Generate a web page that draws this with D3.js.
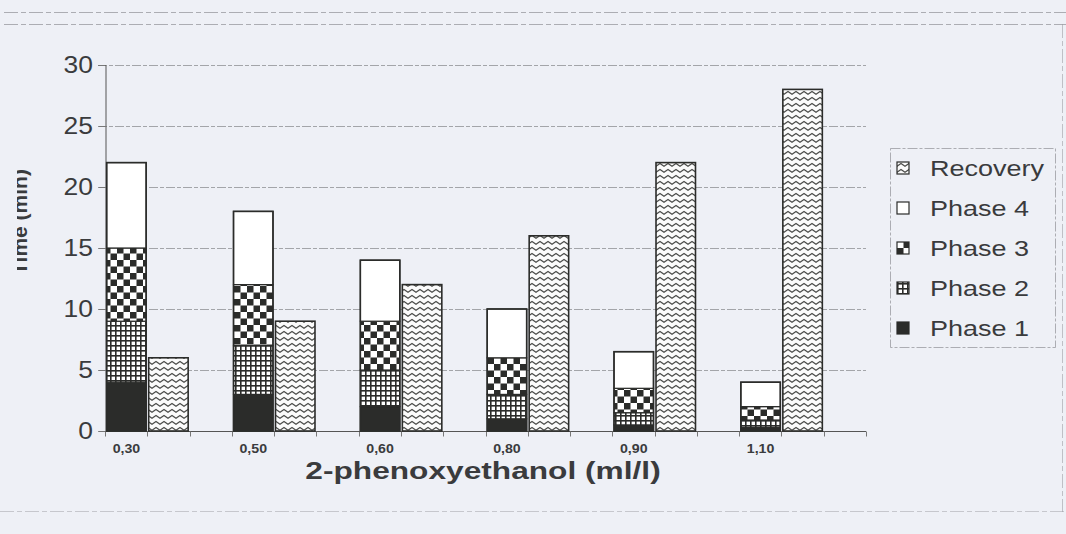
<!DOCTYPE html>
<html>
<head>
<meta charset="utf-8">
<script src="https://cdn.jsdelivr.net/npm/d3@7"></script>
<style>
  html, body { margin: 0; padding: 0; background: #eef0f6; }
  svg { display: block; }
  text { font-family: "Liberation Sans", Arial, sans-serif; }
</style>
</head>
<body>
<svg id="chart" width="1066" height="534"></svg>
<script>
// Anaesthesia stages by 2-phenoxyethanol concentration (minutes)
const categories = ["0,30", "0,50", "0,60", "0,80", "0,90", "1,10"];
const phase1 = [4, 3, 2, 1, 0.5, 0.3];
const phase2 = [5, 4, 3, 2, 1, 0.6];
const phase3 = [6, 5, 4, 3, 2, 1.1];
const phase4 = [7, 6, 5, 4, 3, 2];
const recovery = [6, 9, 12, 16, 22, 28];
const yTicks = [0, 5, 10, 15, 20, 25, 30];
const phaseKeys = ["Phase 1", "Phase 2", "Phase 3", "Phase 4"];
const legendKeys = ["Recovery", "Phase 4", "Phase 3", "Phase 2", "Phase 1"];

const rows = categories.map((c, i) => ({
  cat: c,
  "Phase 1": phase1[i],
  "Phase 2": phase2[i],
  "Phase 3": phase3[i],
  "Phase 4": phase4[i],
  Recovery: recovery[i]
}));

const svg = d3.select("#chart");
const W = 1066, H = 534;
const ink = "#2b2c2a";
const textInk = "#3a3b3d";

svg.append("rect").attr("width", W).attr("height", H).attr("fill", "#eef0f6");

// ---- fill patterns ----
const defs = svg.append("defs");

const pGrid = defs.append("pattern").attr("id", "fill-p2")
  .attr("patternUnits", "userSpaceOnUse").attr("width", 5).attr("height", 5);
pGrid.append("rect").attr("width", 5).attr("height", 5).attr("fill", ink);
pGrid.append("rect").attr("x", 1.6).attr("y", 1.6).attr("width", 3.4).attr("height", 3.4).attr("fill", "#fff");

const pCheck = defs.append("pattern").attr("id", "fill-p3")
  .attr("patternUnits", "userSpaceOnUse").attr("width", 13).attr("height", 13);
pCheck.append("rect").attr("width", 13).attr("height", 13).attr("fill", "#fff");
pCheck.append("rect").attr("width", 6.5).attr("height", 6.5).attr("fill", ink);
pCheck.append("rect").attr("x", 6.5).attr("y", 6.5).attr("width", 6.5).attr("height", 6.5).attr("fill", ink);

const pWave = defs.append("pattern").attr("id", "fill-rec")
  .attr("patternUnits", "userSpaceOnUse").attr("width", 8).attr("height", 6);
pWave.append("rect").attr("width", 8).attr("height", 6).attr("fill", "#fbfbfb");
pWave.append("path").attr("d", "M-0.5,4.6 L4,1.4 L8.5,4.6")
  .attr("fill", "none").attr("stroke", "#4a4b49").attr("stroke-width", 1.2);

const fills = {
  "Phase 1": ink,
  "Phase 2": "url(#fill-p2)",
  "Phase 3": "url(#fill-p3)",
  "Phase 4": "#ffffff",
  "Recovery": "url(#fill-rec)"
};

// ---- scan-page rules around the figure ----
const paper = svg.append("g").attr("stroke", "#9a9ca2").attr("stroke-width", 0.8)
  .attr("stroke-dasharray", "14,3,5,3");
paper.append("line").attr("x1", 4).attr("x2", W).attr("y1", 12.5).attr("y2", 12.5);
paper.append("line").attr("x1", 4).attr("x2", W).attr("y1", 24.5).attr("y2", 24.5);
paper.append("line").attr("x1", 0).attr("x2", W).attr("y1", 511.5).attr("y2", 511.5).attr("opacity", 0.6);
paper.append("line").attr("x1", 1062.5).attr("x2", 1062.5).attr("y1", 24).attr("y2", 512).attr("opacity", 0.7);

// ---- scales ----
const x = d3.scaleBand().domain(categories).range([105, 866]).padding(0);
const slot = d3.scaleBand().domain(["phases", "recovery", "blank"])
  .range([0, x.bandwidth()]).paddingInner(0.06).paddingOuter(0.04);
const y = d3.scaleLinear().domain([0, 30]).range([431, 65]);

// ---- gridlines ----
svg.append("g").selectAll("line").data(yTicks.filter(t => t > 0)).join("line")
  .attr("x1", 98).attr("x2", 866)
  .attr("y1", d => Math.round(y(d)) + 0.5).attr("y2", d => Math.round(y(d)) + 0.5)
  .attr("stroke", "#a3a5a9").attr("stroke-width", 1)
  .attr("stroke-dasharray", "9,2,4,2");

// ---- y axis (labels are slightly wide, as in the printed figure) ----
const yAxis = svg.append("g").attr("transform", "translate(105.5,0)")
  .call(d3.axisLeft(y).tickValues(yTicks).tickSize(7).tickPadding(5));
yAxis.select(".domain").attr("stroke", "#555").attr("stroke-width", 1);
yAxis.selectAll(".tick line").attr("stroke", "#777");
yAxis.selectAll(".tick text")
  .attr("x", 0)
  .attr("transform", "translate(-12.5,0) scale(1.15,1)")
  .attr("font-family", "'Liberation Sans', Arial, sans-serif")
  .attr("font-size", 23).attr("fill", textInk);

// ---- x axis ----
const base = Math.round(y(0)) + 0.5;
svg.append("line").attr("x1", 105).attr("x2", 866).attr("y1", base).attr("y2", base)
  .attr("stroke", "#555").attr("stroke-width", 1.2);
const slotEdges = d3.range(0, categories.length * 3 + 1)
  .map(k => 105 + k * x.bandwidth() / 3);
svg.append("g").selectAll("line").data(slotEdges).join("line")
  .attr("x1", d => Math.round(d) + 0.5).attr("x2", d => Math.round(d) + 0.5)
  .attr("y1", base).attr("y2", base + 5)
  .attr("stroke", "#777").attr("stroke-width", 1);

svg.append("g").selectAll("text").data(categories).join("text")
  .attr("transform", d => `translate(${x(d) + slot("phases") + slot.bandwidth() / 2},453) scale(1.05,1)`)
  .attr("text-anchor", "middle")
  .attr("font-size", 13.5).attr("font-weight", "bold").attr("fill", textInk)
  .text(d => d);

// ---- stacked phase bars ----
const stacked = d3.stack().keys(phaseKeys)(rows);
svg.append("g").selectAll("g").data(stacked).join("g")
  .attr("fill", d => fills[d.key])
  .selectAll("rect").data(d => d).join("rect")
  .attr("x", d => x(d.data.cat) + slot("phases"))
  .attr("width", slot.bandwidth())
  .attr("y", d => y(d[1]))
  .attr("height", d => y(d[0]) - y(d[1]))
  .attr("stroke", ink).attr("stroke-width", 1.2);

// outline around each full stack
svg.append("g").selectAll("rect").data(rows).join("rect")
  .attr("x", d => x(d.cat) + slot("phases"))
  .attr("width", slot.bandwidth())
  .attr("y", d => y(d3.sum(phaseKeys, k => d[k])))
  .attr("height", d => y(0) - y(d3.sum(phaseKeys, k => d[k])))
  .attr("fill", "none").attr("stroke", ink).attr("stroke-width", 1.6);

// ---- recovery bars ----
svg.append("g").selectAll("rect").data(rows).join("rect")
  .attr("x", d => x(d.cat) + slot("recovery"))
  .attr("width", slot.bandwidth())
  .attr("y", d => y(d.Recovery))
  .attr("height", d => y(0) - y(d.Recovery))
  .attr("fill", fills.Recovery)
  .attr("stroke", ink).attr("stroke-width", 1.6);

// ---- axis titles ----
svg.append("text")
  .attr("transform", "translate(483,479) scale(1.32,1)")
  .attr("text-anchor", "middle")
  .attr("font-size", 24).attr("font-weight", "bold").attr("fill", textInk)
  .text("2-phenoxyethanol (ml/l)");

// the y title runs off the left edge of the figure
defs.append("clipPath").attr("id", "ytitle-clip")
  .append("rect").attr("x", 17).attr("y", 0).attr("width", 60).attr("height", H);
svg.append("g").attr("clip-path", "url(#ytitle-clip)")
  .append("text")
  .attr("transform", "translate(27,222) rotate(-90)")
  .attr("text-anchor", "middle")
  .attr("font-size", 21).attr("font-weight", "bold").attr("fill", textInk)
  .text("Time (min)");

// ---- legend ----
const lg = svg.append("g");
lg.append("rect").attr("x", 890.5).attr("y", 148.5).attr("width", 165).attr("height", 199)
  .attr("fill", "none").attr("stroke", "#9a9ca2").attr("stroke-width", 0.8)
  .attr("stroke-dasharray", "10,2,3,2");
const items = lg.selectAll("g.item").data(legendKeys).join("g")
  .attr("class", "item")
  .attr("transform", (d, i) => `translate(897,${168 + i * 40})`);
items.append("rect")
  .attr("x", 0).attr("y", -6).attr("width", 12).attr("height", 12)
  .attr("fill", d => fills[d]).attr("stroke", ink).attr("stroke-width", 1.2);
items.append("text")
  .attr("transform", "translate(33,8) scale(1.2,1)")
  .attr("font-size", 22.5).attr("fill", textInk)
  .text(d => d);
</script>
</body>
</html>
